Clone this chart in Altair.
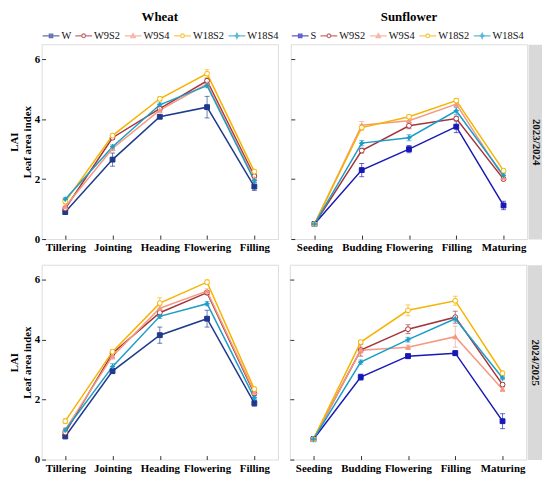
import altair as alt
import pandas as pd

FONT = "Liberation Serif, Times New Roman, serif"

wheat_stages = ["Tillering", "Jointing", "Heading", "Flowering", "Filling"]
sun_stages = ["Seeding", "Budding", "Flowering", "Filling", "Maturing"]
wheat_series = ["W", "W9S2", "W9S4", "W18S2", "W18S4"]
sun_series = ["S", "W9S2", "W9S4", "W18S2", "W18S4"]
periods = ["2023/2024", "2024/2025"]

# ---- Wheat 2023/2024 (mean, error) ----
wheat_2324_mean = {
    "W":     [0.90, 2.65, 4.08, 4.40, 1.75],
    "W9S2":  [1.02, 3.38, 4.35, 5.28, 2.10],
    "W9S4":  [1.08, 3.02, 4.30, 5.18, 2.02],
    "W18S2": [1.25, 3.45, 4.68, 5.52, 2.25],
    "W18S4": [1.33, 3.08, 4.48, 5.12, 1.95],
}
wheat_2324_err = {
    "W":     [0.06, 0.22, 0.06, 0.36, 0.13],
    "W9S2":  [0.05, 0.06, 0.06, 0.08, 0.06],
    "W9S4":  [0.05, 0.07, 0.06, 0.08, 0.05],
    "W18S2": [0.06, 0.06, 0.07, 0.13, 0.06],
    "W18S4": [0.05, 0.06, 0.06, 0.07, 0.05],
}
# ---- Sunflower 2023/2024 ----
sun_2324_mean = {
    "S":     [0.50, 2.30, 3.00, 3.75, 1.12],
    "W9S2":  [0.50, 2.95, 3.78, 4.02, 2.00],
    "W9S4":  [0.50, 3.80, 3.95, 4.50, 2.05],
    "W18S2": [0.50, 3.72, 4.08, 4.62, 2.28],
    "W18S4": [0.50, 3.20, 3.38, 4.28, 2.12],
}
sun_2324_err = {
    "S":     [0.03, 0.22, 0.12, 0.20, 0.14],
    "W9S2":  [0.03, 0.08, 0.10, 0.08, 0.05],
    "W9S4":  [0.03, 0.12, 0.07, 0.10, 0.06],
    "W18S2": [0.03, 0.10, 0.06, 0.07, 0.06],
    "W18S4": [0.03, 0.09, 0.10, 0.12, 0.06],
}
# ---- Wheat 2024/2025 ----
wheat_2425_mean = {
    "W":     [0.77, 2.95, 4.15, 4.70, 1.88],
    "W9S2":  [0.90, 3.55, 4.90, 5.57, 2.20],
    "W9S4":  [1.00, 3.45, 5.05, 5.62, 2.25],
    "W18S2": [1.28, 3.60, 5.22, 5.92, 2.35],
    "W18S4": [0.98, 3.10, 4.78, 5.20, 2.06],
}
wheat_2425_err = {
    "W":     [0.05, 0.08, 0.27, 0.28, 0.10],
    "W9S2":  [0.05, 0.07, 0.08, 0.07, 0.06],
    "W9S4":  [0.06, 0.10, 0.10, 0.08, 0.06],
    "W18S2": [0.08, 0.07, 0.18, 0.07, 0.07],
    "W18S4": [0.05, 0.10, 0.07, 0.07, 0.06],
}
# ---- Sunflower 2024/2025 ----
sun_2425_mean = {
    "S":     [0.68, 2.75, 3.45, 3.55, 1.28],
    "W9S2":  [0.68, 3.65, 4.35, 4.75, 2.50],
    "W9S4":  [0.68, 3.65, 3.75, 4.10, 2.35],
    "W18S2": [0.68, 3.92, 4.98, 5.30, 2.88],
    "W18S4": [0.68, 3.25, 4.00, 4.70, 2.72],
}
sun_2425_err = {
    "S":     [0.04, 0.10, 0.08, 0.08, 0.25],
    "W9S2":  [0.04, 0.20, 0.15, 0.20, 0.06],
    "W9S4":  [0.04, 0.10, 0.07, 0.35, 0.06],
    "W18S2": [0.04, 0.06, 0.18, 0.15, 0.07],
    "W18S4": [0.04, 0.07, 0.08, 0.08, 0.06],
}

color_map = {"W": "#1f3a8c", "S": "#1818b4", "W9S2": "#a5343c",
             "W9S4": "#f59a82", "W18S2": "#f6b300", "W18S4": "#1b9dc8"}
open_series = ["W9S2", "W18S2"]

STAR = "M0,-1L0.32,-0.32L1,0L0.32,0.32L0,1L-0.32,0.32L-1,0L-0.32,-0.32Z"
shape_map = {"W": "square", "S": "square", "W9S2": "circle", "W9S4": "triangle-up",
             "W18S2": "circle", "W18S4": STAR}

LINE_L = "M-1,0H-0.24M0.24,0H1"
CIRC = "M-0.22,0A0.22,0.22 0 1,0 0.22,0A0.22,0.22 0 1,0 -0.22,0Z"
legend_shape_map = {
    "W": "M-1,0H1M-0.2,-0.2H0.2V0.2H-0.2Z",
    "S": "M-1,0H1M-0.2,-0.2H0.2V0.2H-0.2Z",
    "W9S2": LINE_L + CIRC,
    "W9S4": "M-1,0H1M0,-0.26L0.26,0.2H-0.26Z",
    "W18S2": LINE_L + CIRC,
    "W18S4": "M-1,0H1M0,-0.3L0.09,-0.09L0.3,0L0.09,0.09L0,0.3L-0.09,0.09L-0.3,0L-0.09,-0.09Z",
}

W_PANEL = 239
H_PANEL = 197


def make_df(stages, means, errs):
    rows = []
    for s in means:
        for i, st in enumerate(stages):
            m, e = means[s][i], errs[s][i]
            rows.append({"series": s, "stage": st, "idx": i, "value": m,
                         "lo": m - e, "hi": m + e})
    return pd.DataFrame(rows)


def fill_of(s):
    return "#ffffff" if s in open_series else color_map[s]


def panel(df, stages, series, title=None, show_legend=False, left=True, period=None):
    colors = [color_map[s] for s in series]
    fills = [fill_of(s) for s in series]

    xenc = alt.X("stage:N", sort=stages,
                 scale=alt.Scale(type="point", padding=0.5, domain=stages),
                 axis=alt.Axis(title=None, labelAngle=0, labelFont=FONT, labelFontSize=11,
                               labelFontWeight="bold", labelColor="black", domain=False,
                               ticks=True, tickSize=4, tickColor="#333", offset=-4,
                               labelPadding=3, grid=False))
    yscale = alt.Scale(domain=[0, 6.5], nice=False, zero=True)
    yaxis = alt.Axis(values=[0, 2, 4, 6], labels=left,
                     title=(["LAI", "Leaf area index"] if left else None),
                     titleFont=FONT, titleFontSize=11, titleFontWeight="bold",
                     titleLineHeight=13, titlePadding=2, titleColor="black",
                     labelFont=FONT, labelFontSize=11, labelFontWeight="bold",
                     labelColor="black", labelPadding=2, domain=False, ticks=True,
                     tickSize=4, tickColor="#333", offset=-4, grid=False)

    base = alt.Chart(df)
    # invisible carrier of the left y axis
    layers = [base.mark_line(strokeOpacity=0).encode(
        x=xenc, y=alt.Y("value:Q", scale=yscale, axis=yaxis))]

    for s in series:
        d = base.transform_filter(alt.datum.series == s)
        c = color_map[s]
        layers.append(d.mark_rule(strokeWidth=1, color=c, strokeOpacity=0.65).encode(
            x=xenc, y=alt.Y("lo:Q", scale=yscale, axis=None), y2="hi:Q"))
        layers.append(d.mark_tick(orient="horizontal", size=5, thickness=1, color=c,
                                  opacity=0.65).encode(
            x=xenc, y=alt.Y("lo:Q", scale=yscale, axis=None)))
        layers.append(d.mark_tick(orient="horizontal", size=5, thickness=1, color=c,
                                  opacity=0.65).encode(
            x=xenc, y=alt.Y("hi:Q", scale=yscale, axis=None)))
    for s in series:
        d = base.transform_filter(alt.datum.series == s)
        layers.append(d.mark_line(strokeWidth=1.5, color=color_map[s]).encode(
            x=xenc, y=alt.Y("value:Q", scale=yscale, axis=None), order=alt.Order("idx:Q")))

    if show_legend:
        leg = alt.Legend(orient="top", direction="horizontal", title=None, labelFont=FONT,
                         labelFontSize=10.5, labelColor="#111", labelOffset=1,
                         columnPadding=1, symbolSize=289, symbolStrokeWidth=1.3,
                         padding=0, offset=3)
        layers.append(
            base.mark_point(filled=True, size=0, strokeWidth=1.3).encode(
                x=xenc, y=alt.Y("value:Q", scale=yscale, axis=None),
                stroke=alt.Stroke("series:N", scale=alt.Scale(domain=series, range=colors),
                                  legend=leg),
                fill=alt.Fill("series:N", scale=alt.Scale(domain=series, range=fills),
                              legend=leg),
                shape=alt.Shape("series:N",
                                scale=alt.Scale(domain=series,
                                                range=[legend_shape_map[s] for s in series]),
                                legend=leg)))

    for s in series:
        layers.append(
            base.transform_filter(alt.datum.series == s).mark_point(
                shape=shape_map[s], filled=True, fill=fill_of(s), stroke=color_map[s],
                size=24, strokeWidth=1, opacity=1).encode(
                x=xenc, y=alt.Y("value:Q", scale=yscale, axis=None)))

    if period is not None:
        strip = base.mark_line(strokeOpacity=0).encode(
            x=xenc,
            y=alt.Y("value:Q", scale=yscale,
                    axis=alt.Axis(orient="right", title=period, titleAngle=90,
                                  titleBaseline="middle", titlePadding=0,
                                  titleFont=FONT, titleFontSize=11, titleFontWeight="bold",
                                  titleColor="#111", labels=False, ticks=False, grid=False,
                                  domain=True, domainColor="#d9d9d9", domainWidth=15,
                                  offset=8.5)))
        layers.append(strip)

    ch = alt.layer(*layers).resolve_axis(y="independent").properties(
        width=W_PANEL, height=H_PANEL)
    if title is not None:
        ch = ch.properties(title=alt.Title(title, font=FONT, fontSize=13, fontWeight="bold",
                                           anchor="middle", offset=2, color="black"))
    return ch


df_w23 = make_df(wheat_stages, wheat_2324_mean, wheat_2324_err)
df_s23 = make_df(sun_stages, sun_2324_mean, sun_2324_err)
df_w24 = make_df(wheat_stages, wheat_2425_mean, wheat_2425_err)
df_s24 = make_df(sun_stages, sun_2425_mean, sun_2425_err)

w23 = panel(df_w23, wheat_stages, wheat_series, title="Wheat", show_legend=True, left=True)
s23 = panel(df_s23, sun_stages, sun_series, title="Sunflower", show_legend=True, left=False,
            period=periods[0])
w24 = panel(df_w24, wheat_stages, wheat_series, left=True)
s24 = panel(df_s24, sun_stages, sun_series, left=False, period=periods[1])

ind = dict(fill="independent", stroke="independent", shape="independent")

row1 = alt.hconcat(w23, s23, spacing=10).resolve_scale(**ind).resolve_legend(**ind)
row2 = alt.hconcat(w24, s24, spacing=10)

chart = alt.vconcat(row1, row2, spacing=10).resolve_scale(**ind).resolve_legend(
    **ind).properties(padding=0).configure_view(
    stroke="#333", strokeWidth=1.2).configure(background="white")

chart.save("out.html", embed_options={"renderer": "svg", "actions": False})
